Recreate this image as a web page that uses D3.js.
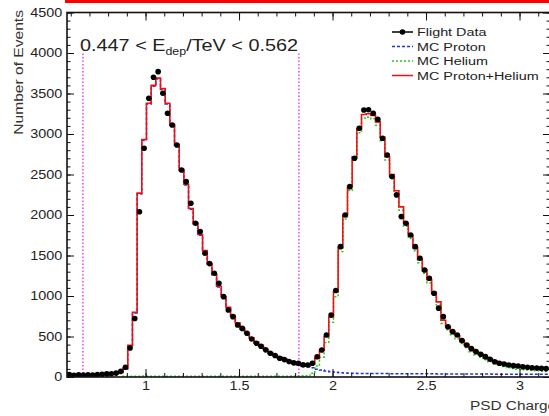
<!DOCTYPE html>
<html lang="en">
<head>
    <meta charset="UTF-8">
    <title>PSD Charge</title>
    <script type="text/javascript" src="https://cdn.jsdelivr.net/npm/d3@7"></script>
    <style type="text/css">
        body { margin: 0; background: white; }
        svg { display: block; font-family: "Liberation Sans", Arial, sans-serif; }
        .axis text { font-size: 12px; fill: #222; }
        .axis line { stroke: #111; }
    </style>
</head>
<body>
    <script type="text/javascript">
        // histogram binning (PSD charge), first bin edge and width
        var binStart = 0.58;
        var binWidth = 0.025;

        // Flight data counts per bin
        var flightData = [
            30, 22, 26, 24, 28, 25, 30, 32, 38, 40, 48, 70, 120, 358, 722, 2041, 2824, 3442, 3700, 3770,
            3504, 3257, 3112, 2865, 2556, 2412, 2145, 1898, 1795, 1528, 1400, 1281, 1157, 992, 827, 745, 642, 600, 540, 470,
            416, 380, 335, 293, 265, 231, 215, 190, 175, 169, 150, 148, 169, 250, 333, 519, 766, 1068, 1609, 2000,
            2350, 2700, 3071, 3297, 3300, 3256, 3180, 2948, 2741, 2474, 2248, 1980, 1898, 1754, 1609, 1466, 1321, 1219, 1034, 850,
            745, 621, 560, 519, 450, 395, 350, 313, 280, 251, 220, 189, 170, 160, 148, 140, 135, 127, 120, 115,
            110, 107, 104
        ];

        // MC proton counts per bin
        var mcProton = [
            28, 25, 24, 26, 24, 27, 28, 30, 33, 36, 42, 55, 100, 380, 790, 2260, 2920, 3370, 3590, 3680,
            3550, 3370, 3110, 2860, 2550, 2370, 2070, 1890, 1750, 1550, 1390, 1260, 1110, 980, 850, 750, 660, 590, 530, 470,
            420, 380, 330, 290, 260, 235, 215, 190, 168, 150, 135, 125, 115, 95, 85, 75, 65, 58, 52, 48,
            46, 45, 44, 44, 43, 43, 42, 42, 42, 41, 41, 41, 40, 40, 40, 40, 39, 39, 39, 38,
            38, 38, 38, 37, 37, 37, 37, 36, 36, 36, 36, 35, 35, 35, 35, 34, 34, 34, 34, 33,
            33, 33, 33
        ];

        // MC helium counts per bin
        var mcHelium = [
            0, 0, 0, 0, 0, 0, 0, 0, 0, 0, 0, 0, 10, 10, 10, 10, 12, 10, 10, 10,
            10, 10, 10, 10, 10, 10, 10, 10, 10, 10, 10, 10, 10, 10, 10, 10, 10, 10, 10, 10,
            10, 10, 10, 10, 10, 10, 10, 10, 12, 14, 15, 15, 45, 135, 245, 425, 675, 992, 1548, 1952,
            2304, 2675, 3016, 3196, 3207, 3187, 3108, 2918, 2678, 2459, 2259, 2059, 1860, 1710, 1560, 1410, 1281, 1161, 1009, 889,
            662, 582, 522, 473, 413, 363, 313, 274, 244, 214, 189, 165, 145, 130, 115, 106, 96, 91, 86, 82,
            77, 72, 67
        ];

        var xTicks = [1, 1.5, 2, 2.5, 3];
        var yTicks = [0, 500, 1000, 1500, 2000, 2500, 3000, 3500, 4000, 4500];
        var cutValues = [0.665, 1.82];
        var cutTop = 4000;

        var legendItems = [
            {label: "Flight Data", key: "data"},
            {label: "MC Proton", key: "proton"},
            {label: "MC Helium", key: "helium"},
            {label: "MC Proton+Helium", key: "total"}
        ];

        var width = 549;
        var height = 416;
        var plotLeft = 67;
        var plotRight = 550;
        var plotTop = 12.5;
        var plotBottom = 377;
        var stretch = 1.2;

        var colors = {data: "#000000", proton: "#2233dd", helium: "#22cc22", total: "#ee1111", cut: "#ee44ee"};

        var x = d3.scaleLinear().domain([0.58, 3.163]).range([plotLeft, plotRight]);
        var y = d3.scaleLinear().domain([0, 4500]).range([plotBottom, plotTop]);

        var mcTotal = mcProton.map(function (p, i) { return p + mcHelium[i]; });

        // step outline points for a histogram
        var stepPoints = function (values) {
            var pts = [];
            values.forEach(function (v, i) {
                var lo = binStart + i * binWidth;
                pts.push([lo, v]);
                pts.push([lo + binWidth, v]);
            });
            return pts;
        };

        var line = d3.line()
            .x(function (d) { return x(d[0]); })
            .y(function (d) { return y(d[1]); });

        var svg = d3.select("body")
            .append("svg")
            .attr("width", width)
            .attr("height", height);

        // red bar at top of the picture
        svg.append("rect")
            .attr("x", 65).attr("y", 0)
            .attr("width", width - 65).attr("height", 3)
            .attr("fill", "#ff0000");

        svg.append("defs").append("clipPath")
            .attr("id", "plot-area")
            .append("rect")
            .attr("x", plotLeft).attr("y", plotTop)
            .attr("width", plotRight - plotLeft).attr("height", plotBottom - plotTop);

        var plot = svg.append("g").attr("clip-path", "url(#plot-area)");

        // cut lines
        plot.selectAll("line.cut")
            .data(cutValues)
            .enter()
            .append("line")
            .attr("class", "cut")
            .attr("x1", function (d) { return x(d); })
            .attr("x2", function (d) { return x(d); })
            .attr("y1", y(0))
            .attr("y2", y(cutTop))
            .attr("stroke", colors.cut)
            .attr("stroke-width", 1.5)
            .attr("stroke-dasharray", "1.5,2");

        plot.append("path")
            .attr("d", line(stepPoints(mcProton)))
            .attr("fill", "none")
            .attr("stroke", colors.proton)
            .attr("stroke-width", 1.5)
            .attr("stroke-dasharray", "3,2");

        // helium starts where it is non zero
        var heliumPts = stepPoints(mcHelium).filter(function (d) { return d[0] >= binStart + 12 * binWidth; });
        plot.append("path")
            .attr("d", line(heliumPts))
            .attr("fill", "none")
            .attr("stroke", colors.helium)
            .attr("stroke-width", 1.5)
            .attr("stroke-dasharray", "2,2");

        plot.append("path")
            .attr("d", line(stepPoints(mcTotal)))
            .attr("fill", "none")
            .attr("stroke", colors.total)
            .attr("stroke-width", 1.6);

        plot.selectAll("circle.data")
            .data(flightData)
            .enter()
            .append("circle")
            .attr("class", "data")
            .attr("cx", function (d, i) { return x(binStart + (i + 0.5) * binWidth); })
            .attr("cy", function (d) { return y(d); })
            .attr("r", 2.8)
            .attr("fill", colors.data);

        // axes
        var minorX = d3.range(0.6, 3.17, 0.1);
        var minorY = d3.range(0, 4501, 100);
        var stretchText = function (g) {
            g.select(".domain").remove();
            g.selectAll("text").attr("transform", "scale(" + stretch + ",1)");
        };

        svg.append("g")
            .attr("class", "axis")
            .attr("transform", "translate(0," + plotBottom + ")")
            .call(d3.axisBottom(x).tickValues(minorX).tickSize(-4).tickSizeOuter(0).tickFormat(""))
            .call(stretchText);
        svg.append("g")
            .attr("class", "axis")
            .attr("transform", "translate(0," + plotBottom + ")")
            .call(d3.axisBottom(x).tickValues(xTicks).tickSize(-8).tickSizeOuter(0).tickPadding(4).tickFormat(d3.format("")))
            .call(stretchText);

        svg.append("g")
            .attr("class", "axis")
            .attr("transform", "translate(0," + plotTop + ")")
            .call(d3.axisTop(x).tickValues(minorX).tickSize(-4).tickSizeOuter(0).tickFormat(""))
            .call(stretchText);
        svg.append("g")
            .attr("class", "axis")
            .attr("transform", "translate(0," + plotTop + ")")
            .call(d3.axisTop(x).tickValues(xTicks).tickSize(-8).tickSizeOuter(0).tickFormat(""))
            .call(stretchText);

        svg.append("g")
            .attr("class", "axis")
            .attr("transform", "translate(" + plotLeft + ",0)")
            .call(d3.axisLeft(y).tickValues(minorY).tickSize(-3.5).tickSizeOuter(0).tickFormat(""))
            .call(stretchText);
        svg.append("g")
            .attr("class", "axis")
            .attr("transform", "translate(" + plotLeft + ",0)")
            .call(d3.axisLeft(y).tickValues(yTicks).tickSize(-7).tickSizeOuter(0).tickPadding(4).tickFormat(d3.format("d")))
            .call(stretchText);

        svg.append("g")
            .attr("class", "axis")
            .attr("transform", "translate(" + plotRight + ",0)")
            .call(d3.axisRight(y).tickValues(minorY).tickSize(-3.5).tickSizeOuter(0).tickFormat(""))
            .call(stretchText);
        svg.append("g")
            .attr("class", "axis")
            .attr("transform", "translate(" + plotRight + ",0)")
            .call(d3.axisRight(y).tickValues(yTicks).tickSize(-7).tickSizeOuter(0).tickFormat(""))
            .call(stretchText);

        svg.append("rect")
            .attr("x", plotLeft).attr("y", plotTop)
            .attr("width", plotRight - plotLeft).attr("height", plotBottom - plotTop)
            .attr("fill", "none")
            .attr("stroke", "#111")
            .attr("stroke-width", 1.6);

        // axis titles
        svg.append("text")
            .attr("transform", "translate(23,10) rotate(-90) scale(" + stretch + ",1)")
            .attr("text-anchor", "end")
            .attr("font-size", 13)
            .attr("fill", "#333")
            .text("Number of Events");

        svg.append("text")
            .attr("transform", "translate(470,410) scale(1.28,1)")
            .attr("font-size", 12)
            .attr("fill", "#333")
            .text("PSD Charge");

        // energy range label
        var title = svg.append("text")
            .attr("transform", "translate(80,51) scale(1.24,1)")
            .attr("font-size", 16)
            .attr("fill", "#222");
        title.append("tspan").text("0.447 < E");
        title.append("tspan").attr("font-size", 10).attr("dy", 4).text("dep");
        title.append("tspan").attr("dy", -4).text("/TeV < 0.562");

        // legend
        var legend = svg.append("g").attr("transform", "translate(392,32)");
        var entry = legend.selectAll("g")
            .data(legendItems)
            .enter()
            .append("g")
            .attr("transform", function (d, i) { return "translate(0," + (i * 14.5) + ")"; });

        entry.append("line")
            .attr("x1", 0).attr("x2", 21)
            .attr("y1", 0).attr("y2", 0)
            .attr("stroke", function (d) { return colors[d.key]; })
            .attr("stroke-width", 1.5)
            .attr("stroke-dasharray", function (d) {
                if (d.key === "proton") { return "3,2"; }
                if (d.key === "helium") { return "2,2"; }
                return null;
            });
        entry.filter(function (d) { return d.key === "data"; })
            .append("circle")
            .attr("cx", 10.5).attr("cy", 0).attr("r", 2.8)
            .attr("fill", colors.data);
        entry.append("text")
            .attr("transform", "translate(25,4) scale(1.25,1)")
            .attr("font-size", 11.5)
            .attr("fill", "#222")
            .text(function (d) { return d.label; });
    </script>
</body>
</html>
